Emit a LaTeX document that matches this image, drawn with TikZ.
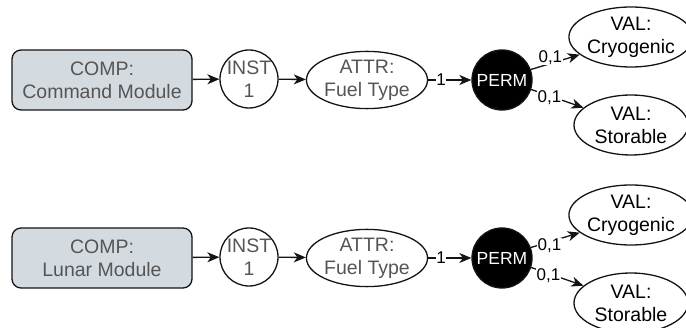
\documentclass[tikz,border=0pt]{standalone}
\usepackage{fontspec}
\setmainfont{Liberation Sans}
\usetikzlibrary{shapes.geometric,arrows.meta}
\definecolor{boxfill}{RGB}{211,219,225}
\definecolor{txtgray}{RGB}{85,85,85}
\definecolor{edgecol}{RGB}{20,20,20}
\tikzset{
  base/.style={draw=edgecol, line width=1.3pt, inner sep=0pt, align=center,
    font=\fontsize{19.5}{23}\selectfont},
  compbox/.style={base, rectangle, rounded corners=9pt, fill=boxfill,
    minimum width=180pt, minimum height=60pt, text=txtgray},
  instnode/.style={base, circle, minimum size=58pt, text=txtgray},
  attrnode/.style={base, ellipse, minimum width=120pt, minimum height=56pt, text=txtgray},
  permnode/.style={base, circle, fill=black, minimum size=60pt, text=white,
    font=\fontsize{17.5}{21}\selectfont},
  valnode/.style={base, ellipse, minimum width=114pt, minimum height=60pt, text=black},
  conn/.style={draw=edgecol, line width=1.3pt, -{Stealth[length=12pt,width=10pt,inset=3.5pt]}},
  elabel/.style={fill=white, inner sep=0.5pt, text=black, font=\fontsize{17}{19}\selectfont}
}
\begin{document}
\begin{tikzpicture}[x=1pt,y=-1pt]
\useasboundingbox (0,0) rectangle (686,328);
% top row
\node[compbox] (comp1) at (102,80) {COMP:\\Command Module};
\node[instnode] (inst1) at (249,79) {INST\\1};
\node[attrnode] (attr1) at (367,80) {ATTR:\\Fuel Type};
\node[permnode] (perm1) at (502,80) {PERM};
\node[valnode] (valc1) at (631,37) {VAL:\\Cryogenic};
\node[valnode] (vals1) at (631,125) {VAL:\\Storable};
\draw[conn] (comp1) -- (inst1);
\draw[conn] (inst1) -- (attr1);
\draw[conn] (attr1) -- node[elabel, pos=0.3] {1} (perm1);
\draw[conn] (perm1.20) -- node[elabel, pos=0.4, yshift=6pt] {0,1} (valc1.199);
\draw[conn] (perm1.-18) -- node[elabel, pos=0.35, yshift=-2pt] {0,1} (vals1.160);
% bottom row
\node[compbox] (comp2) at (102,258) {COMP:\\Lunar Module};
\node[instnode] (inst2) at (249,257) {INST\\1};
\node[attrnode] (attr2) at (367,258) {ATTR:\\Fuel Type};
\node[permnode] (perm2) at (502,258) {PERM};
\node[valnode] (valc2) at (631,215) {VAL:\\Cryogenic};
\node[valnode] (vals2) at (631,303) {VAL:\\Storable};
\draw[conn] (comp2) -- (inst2);
\draw[conn] (inst2) -- (attr2);
\draw[conn] (attr2) -- node[elabel, pos=0.3] {1} (perm2);
\draw[conn] (perm2.20) -- node[elabel, pos=0.38, yshift=-4pt] {0,1} (valc2.199);
\draw[conn] (perm2.-18) -- node[elabel, pos=0.33, yshift=-2pt] {0,1} (vals2.160);
\end{tikzpicture}
\end{document}
